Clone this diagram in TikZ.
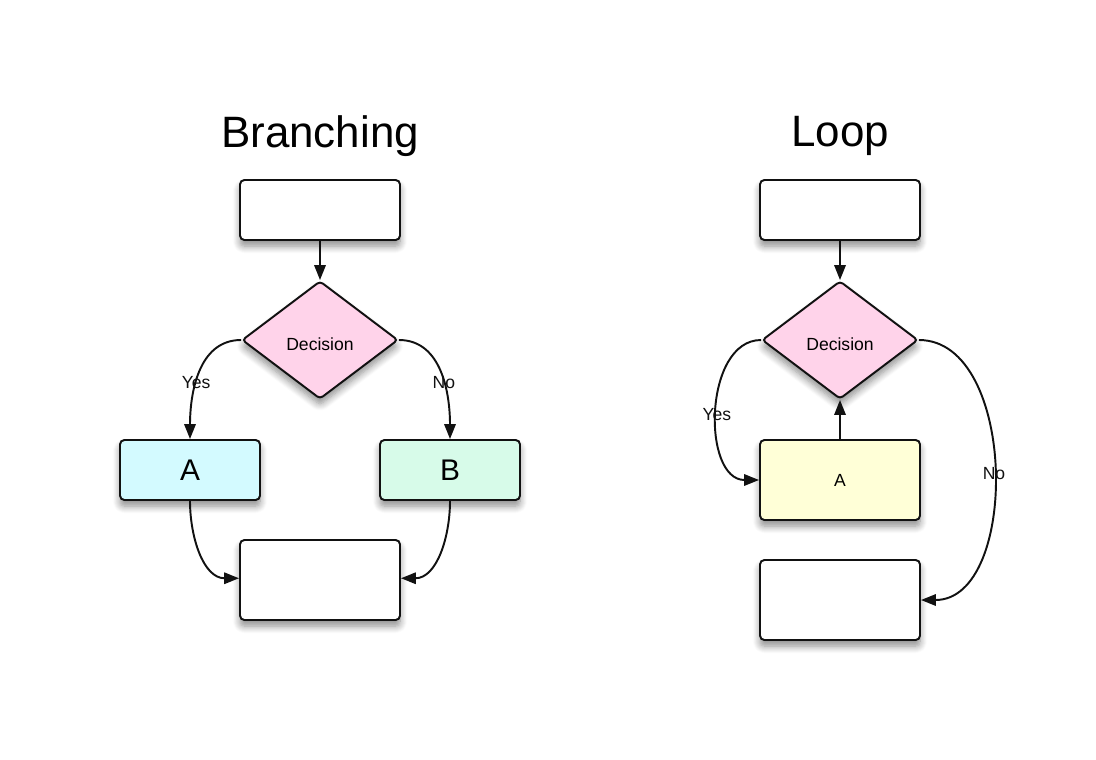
\documentclass[tikz,border=0pt]{standalone}
\usepackage{fontspec}
\setmainfont{Liberation Sans}
\usepackage{xcolor}
\definecolor{fcink}{HTML}{111111}
\definecolor{fcpink}{HTML}{FFD3EA}
\definecolor{fccyan}{HTML}{D3FAFF}
\definecolor{fcmint}{HTML}{D7FBE9}
\definecolor{fcyellow}{HTML}{FFFFD7}
\usepackage{tikz}
\usetikzlibrary{arrows.meta,positioning,shapes.geometric,shadows.blur}
\tikzset{
  fcbox/.style     ={rectangle, rounded corners=2.5pt, draw=fcink, fill=white,
                     line width=1.1pt, minimum width=3.2cm, minimum height=1.2cm,
                     inner sep=0pt, align=center, font=\fontsize{10}{12}\selectfont,
                     blur shadow={shadow xshift=0pt, shadow yshift=-3.5pt,
                     shadow blur steps=8, shadow blur radius=4pt, shadow opacity=45}},
  fctall/.style    ={fcbox, minimum height=1.6cm},
  fcletter/.style  ={fcbox, minimum width=2.8cm, font=\fontsize{17}{20}\selectfont},
  fcdecision/.style={fcbox, diamond, rounded corners=2pt, fill=fcpink,
                     minimum width=3.12cm, minimum height=2.36cm, aspect=1.32},
  fcarrow/.style   ={-{Triangle[length=8.5pt,width=6.5pt]}, line width=1.1pt, draw=fcink},
  fclbl/.style     ={font=\fontsize{10}{12}\selectfont, text=fcink, inner sep=1pt},
  fctitle/.style   ={font=\fontsize{25}{30}\selectfont, text=black},
}
\newcommand{\fcdown}[1]{\raisebox{-2.2pt}[\height][0pt]{#1}}
\begin{document}
\begin{tikzpicture}
  \useasboundingbox (0,0) rectangle (21.92,-15.18);
  % branching
  \node[fctitle] (btitle) at (6.4,-2.72) {Branching};
  \node[fcbox] (bstart) at (6.4,-4.2) {};
  \node[fcdecision] (bdec) at (6.4,-6.8) {\fcdown{Decision}};
  \node[fcletter, fill=fccyan] (ba) at (3.8,-9.4) {A};
  \node[fcletter, fill=fcmint] (bb) at (9.0,-9.4) {B};
  \node[fctall] (bend) at (6.4,-11.6) {};
  \draw[fcarrow] (bstart) -- (bdec);
  \draw[fcarrow] (bdec.west) to[out=180, in=90]
    node[fclbl, pos=0.58] {Yes} (ba.north);
  \draw[fcarrow] (bdec.east) to[out=0, in=90]
    node[fclbl, pos=0.58] {No} (bb.north);
  \draw[fcarrow] (ba.south) to[out=-90, in=180] ([yshift=1pt]bend.west);
  \draw[fcarrow] (bb.south) to[out=-90, in=0] ([yshift=1pt]bend.east);
  % loop
  \node[fctitle] (ltitle) at (16.8,-2.72) {Loop};
  \node[fcbox] (lstart) at (16.8,-4.2) {};
  \node[fcdecision] (ldec) at (16.8,-6.8) {\fcdown{Decision}};
  \node[fctall, fill=fcyellow] (la) at (16.8,-9.6) {A};
  \node[fctall] (lend) at (16.8,-12.0) {};
  \draw[fcarrow] (lstart) -- (ldec);
  \draw[fcarrow] (la) -- (ldec);
  \draw[fcarrow] (ldec.west) to[out=180, in=180, looseness=1.05]
    node[fclbl, pos=0.52] {Yes} (la.west);
  \draw[fcarrow] (ldec.east) to[out=0, in=0, looseness=0.97]
    node[fclbl, pos=0.51] {No} (lend.east);
\end{tikzpicture}
\end{document}
